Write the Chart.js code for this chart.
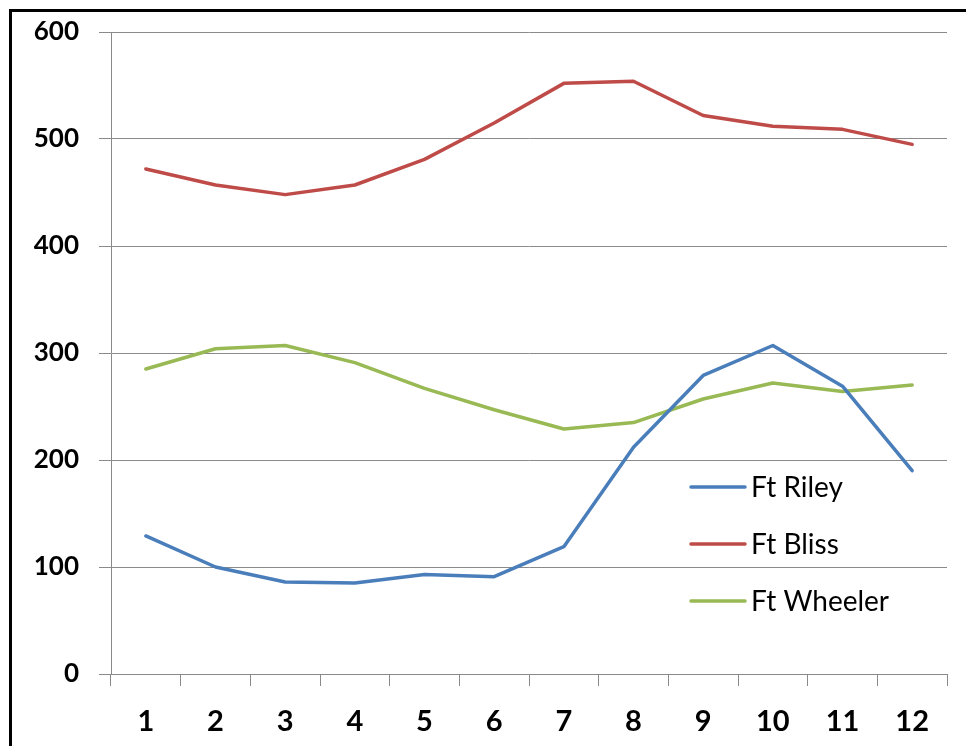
<!DOCTYPE html>
<html>
<head>
<meta charset="utf-8">
<script src="https://cdn.jsdelivr.net/npm/chart.js@4/dist/chart.umd.min.js"></script>
<style>
  html, body { margin: 0; padding: 0; background: #fff; overflow: hidden; }
  #wrap { position: relative; width: 966px; height: 746px; }
  #frame { position: absolute; left: 9px; top: 9px; width: 1000px; height: 800px; border: 3px solid #000; pointer-events: none; }
  canvas { position: absolute; left: 0; top: 0; }
</style>
</head>
<body>
<div id="wrap">
  <canvas id="lineCanvas" width="966" height="746"></canvas>
  <div id="frame"></div>
</div>
<script>
// months 1..12
const months = ['1', '2', '3', '4', '5', '6', '7', '8', '9', '10', '11', '12'];
const seriesNames = ['Ft Riley', 'Ft Bliss', 'Ft Wheeler'];
const riley   = [129, 100, 86, 85, 93, 91, 119, 212, 279, 307, 269, 190];
const bliss   = [472, 457, 448, 457, 481, 515, 552, 554, 522, 512, 509, 495];
const wheeler = [285, 304, 307, 291, 267, 247, 229, 235, 257, 272, 264, 270];
const seriesColors = ['#4A7EBB', '#BE4B48', '#98B954'];

const gridGray = '#8a8a8a';

// legend sits inside the plot, like the excel chart
const insideLegend = {
  id: 'insideLegend',
  afterDraw(chart, args, opts) {
    const ctx = chart.ctx;
    ctx.save();
    ctx.font = opts.font;
    ctx.textBaseline = 'middle';
    ctx.fillStyle = '#000';
    chart.data.datasets.forEach((ds, i) => {
      const y = opts.y + i * opts.gap;
      ctx.strokeStyle = ds.borderColor;
      ctx.lineWidth = 3.5;
      ctx.lineCap = 'round';
      ctx.beginPath();
      ctx.moveTo(opts.x, y);
      ctx.lineTo(opts.x + opts.lineLen, y);
      ctx.stroke();
      ctx.fillText(ds.label, opts.x + opts.lineLen + 6, y + 1);
    });
    ctx.restore();
  }
};

const ctx = document.getElementById('lineCanvas').getContext('2d');
const lineChart = new Chart(ctx, {
  type: 'line',
  data: {
    labels: months,
    datasets: [riley, bliss, wheeler].map((vals, i) => ({
      label: seriesNames[i],
      data: vals,
      borderColor: seriesColors[i],
      backgroundColor: seriesColors[i],
      borderWidth: 3.5,
      borderCapStyle: 'round',
      borderJoinStyle: 'round',
      pointRadius: 0,
      tension: 0,
      fill: false
    }))
  },
  options: {
    responsive: false,
    animation: false,
    layout: { padding: { left: 0, right: 19, top: 32, bottom: 0 } },
    plugins: {
      legend: { display: false },
      tooltip: { enabled: false },
      insideLegend: { x: 691, y: 487, gap: 57, lineLen: 54, font: '28px Lato' }
    },
    scales: {
      x: {
        offset: true,
        grid: { offset: true, drawOnChartArea: false, tickLength: 12, color: gridGray, lineWidth: 1 },
        border: { color: gridGray, width: 1 },
        ticks: { color: '#000', font: { family: 'Lato', size: 29, weight: 'bold' }, padding: 18, maxRotation: 0 },
        afterFit(scale) { scale.height = 72; scale.paddingLeft = 0; scale.paddingRight = 0; }
      },
      y: {
        min: 0,
        max: 600,
        ticks: { stepSize: 100, color: '#000', font: { family: 'Lato', size: 26, weight: 'bold' }, padding: 20 },
        grid: { tickLength: 12, color: gridGray, lineWidth: 1 },
        border: { color: gridGray, width: 1 },
        afterFit(scale) { scale.width = 111; scale.paddingTop = 0; scale.paddingBottom = 0; }
      }
    }
  },
  plugins: [insideLegend]
});
</script>
</body>
</html>
